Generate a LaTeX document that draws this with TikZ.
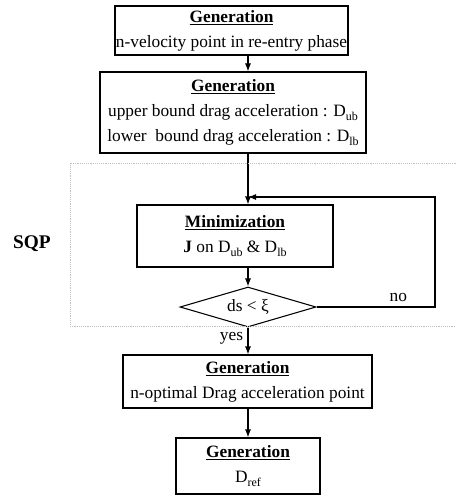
\documentclass[tikz,border=0pt]{standalone}
\usepackage{fontspec}
\setmainfont{Liberation Serif}
\usetikzlibrary{shapes.geometric,arrows.meta}
\newcommand{\lowidx}[1]{\raisebox{-0.45ex}{\fontsize{9}{9}\selectfont #1}}
\newcommand{\head}[1]{\underline{\textbf{#1}}}

\begin{document}
\begin{tikzpicture}[x=0.75pt,y=-0.75pt,>={Latex[length=6pt,width=4.5pt]},font=\fontsize{13}{18.75}\selectfont]
\tikzstyle{block}=[draw,thick,rectangle,align=center,inner sep=0pt]
\tikzstyle{check}=[draw,thick,diamond,aspect=3.4,inner sep=0pt]
\tikzstyle{flow}=[thick,->]
\tikzstyle{frame}=[gray!50,densely dotted]
\useasboundingbox (0,0) rectangle (456,499);
% ========= blocks
\node (gen1) at (231.5,30.5) [block, minimum width=174.75pt, minimum height=36.75pt]
  {\head{Generation}\\ n-velocity point in re-entry phase};
\node (gen2) at (233,112.5) [block, minimum width=199.5pt, minimum height=60.75pt]
  {\head{Generation}\\ upper bound drag acceleration : D\lowidx{ub}\\ lower\ \ bound drag acceleration : D\lowidx{lb}};
\node (minz) at (235,236) [block, minimum width=147pt, minimum height=46.5pt]
  {\head{Minimization}\\ \textbf{J} on D\lowidx{ub} \& D\lowidx{lb}};
\node (dec) at (248,307) [check, minimum width=102pt, minimum height=30pt] {ds < ξ};
\node (gen4) at (247.5,381.5) [block, minimum width=186.75pt, minimum height=39.75pt]
  {\head{Generation}\\ n-optimal Drag acceleration point};
\node (gen5) at (248,466) [block, minimum width=108pt, minimum height=42pt]
  {\head{Generation}\\ D\lowidx{ref}};
\node (sqp) at (32,244) {\fontsize{14.5}{14.5}\selectfont\textbf{SQP}};
\coordinate (join) at (248,197);
\coordinate (turn) at (435,197);
% ====== connections
\draw [flow] (gen1.south -| dec) -- (gen2.north -| dec);
\draw [flow] (gen2.south -| dec) -- (minz.north -| dec);
\draw [flow] (minz.south -| dec) -- (dec.north);
\draw [flow] (dec.south) -- node [left,pos=0.4] {yes} (gen4.north -| dec);
\draw [flow] (gen4.south -| dec) -- (gen5.north);
\draw [flow] (dec.east) -- node [above,pos=0.69] {no} (dec.east -| turn) -- (turn) -- (join);
%% ===== SQP frame
\draw [frame] (456,163) -- (70,163) -- (70,326) -- (456,326);
\end{tikzpicture}
\end{document}
